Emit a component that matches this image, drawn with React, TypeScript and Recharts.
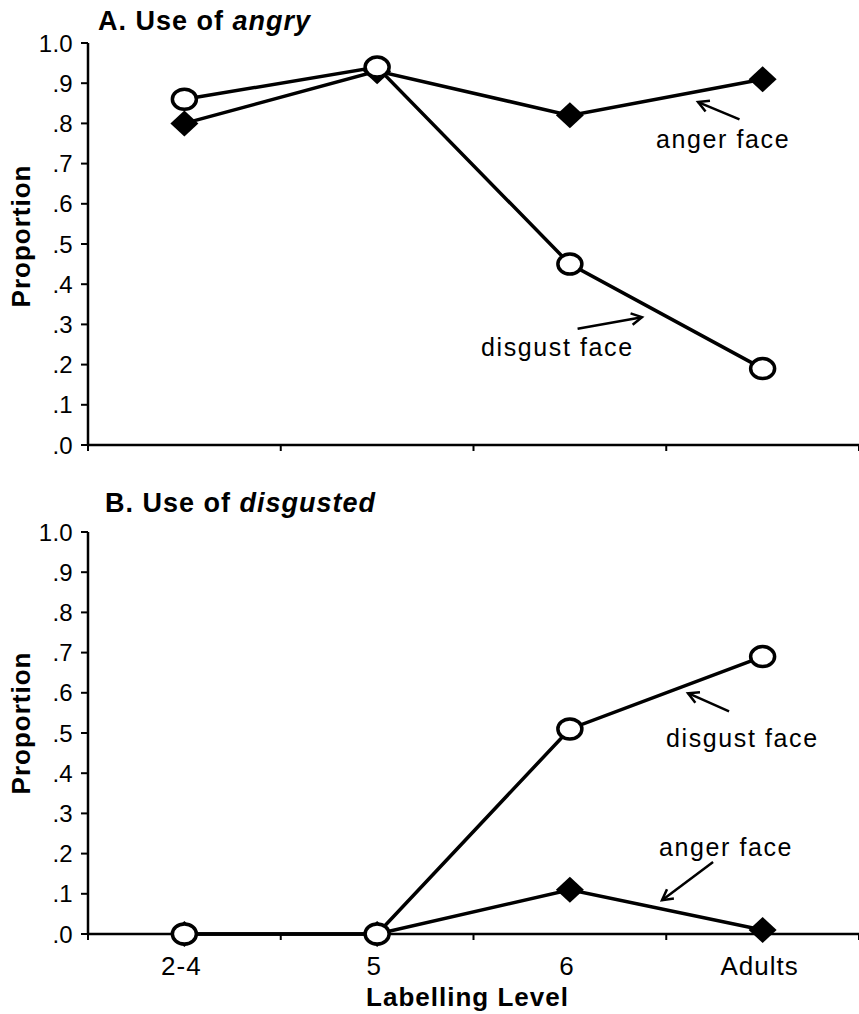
import React from "react";
import {
  LineChart,
  Line,
  XAxis,
  YAxis,
  ReferenceLine,
  ReferenceDot,
} from "recharts";

const FONT = '"Liberation Sans", Arial, Helvetica, sans-serif';

// labelling levels on the x axis
const categories = ["2-4", "5", "6", "Adults"];
const yTicks = [0, 0.1, 0.2, 0.3, 0.4, 0.5, 0.6, 0.7, 0.8, 0.9, 1.0];
const xTicks = [0, 0.5, 1, 1.5, 2, 2.5, 3, 3.5, 4];

// A. use of "angry"
const angryAngerFace = [0.8, 0.93, 0.82, 0.91];
const angryDisgustFace = [0.86, 0.94, 0.45, 0.19];

// B. use of "disgusted"
const disgustedAngerFace = [0.0, 0.0, 0.11, 0.01];
const disgustedDisgustFace = [0.0, 0.0, 0.51, 0.69];

// annotations, in data units
const angryNotes = [
  { text: "anger face", x: 3.29, y: 0.76 },
  { text: "disgust face", x: 2.43, y: 0.245 },
];
const angryArrows = [
  { from: [3.38, 0.81], to: [3.165, 0.853] },
  { from: [2.54, 0.289], to: [2.874, 0.318] },
];
const disgustedNotes = [
  { text: "disgust face", x: 3.39, y: 0.487 },
  { text: "anger face", x: 3.305, y: 0.216 },
];
const disgustedArrows = [
  { from: [3.326, 0.554], to: [3.113, 0.599] },
  { from: [3.243, 0.179], to: [2.978, 0.084] },
];

const buildRows = (anger: number[], disgust: number[]) =>
  categories.map((c, i) => ({ pos: i + 0.5, level: c, anger: anger[i], disgust: disgust[i] }));

const fmtY = (v: number) => (v >= 1 ? "1.0" : "." + Math.round(v * 10));

const YTick = (p: any) => (
  <text
    x={p.x}
    y={p.y}
    dy="0.36em"
    textAnchor="end"
    fontSize={24}
    letterSpacing={0.3}
    fontFamily={FONT}
    fill="#000"
  >
    {fmtY(p.payload.value)}
  </text>
);

const makeXTick = (showLabels: boolean) => (p: any) => {
  const v = p.payload.value;
  if (Number.isInteger(v)) {
    return <line x1={p.x} x2={p.x} y1={p.y} y2={p.y + 6} stroke="#000" strokeWidth={2} />;
  }
  if (!showLabels) return <g />;
  return (
    <text
      x={p.x - 3}
      y={p.y + 41}
      textAnchor="middle"
      fontSize={26}
      letterSpacing={1}
      fontFamily={FONT}
      fill="#000"
    >
      {categories[Math.floor(v)]}
    </text>
  );
};

const CircleDot = (p: any) =>
  p.cx == null ? <g /> : (
    <ellipse cx={p.cx} cy={p.cy} rx={12} ry={10} fill="#fff" stroke="#000" strokeWidth={3.5} />
  );

const DiamondDot = (p: any) =>
  p.cx == null ? <g /> : (
    <polygon
      points={`${p.cx},${p.cy - 13} ${p.cx + 14},${p.cy} ${p.cx},${p.cy + 13} ${p.cx - 14},${p.cy}`}
      fill="#000"
    />
  );

const ArrowShape = (p: any) => {
  const { x1, y1, x2, y2 } = p;
  const a = Math.atan2(y2 - y1, x2 - x1);
  const len = 12;
  const spread = 0.5;
  const h1x = x2 - len * Math.cos(a - spread);
  const h1y = y2 - len * Math.sin(a - spread);
  const h2x = x2 - len * Math.cos(a + spread);
  const h2y = y2 - len * Math.sin(a + spread);
  return (
    <g>
      <line x1={x1} y1={y1} x2={x2} y2={y2} stroke="#000" strokeWidth={2.5} />
      <polyline
        points={`${h1x},${h1y} ${x2},${y2} ${h2x},${h2y}`}
        fill="none"
        stroke="#000"
        strokeWidth={2.5}
      />
    </g>
  );
};

const noteShape = (text: string) => (p: any) => (
  <text
    x={p.cx + 1}
    y={p.cy}
    dy="0.36em"
    textAnchor="middle"
    fontSize={25}
    letterSpacing={1.6}
    fontFamily={FONT}
    fill="#000"
  >
    {text}
  </text>
);

interface PanelProps {
  top: number;
  height: number;
  xAxisHeight: number;
  anger: number[];
  disgust: number[];
  notes: { text: string; x: number; y: number }[];
  arrows: { from: number[]; to: number[] }[];
  showXLabels: boolean;
  yLabelShift: number;
}

function Panel({ top, height, xAxisHeight, anger, disgust, notes, arrows, showXLabels, yLabelShift }: PanelProps) {
  const rows = buildRows(anger, disgust);
  return (
    <div style={{ position: "absolute", left: 0, top }}>
      <LineChart width={859} height={height} data={rows} margin={{ top: 43, right: 0, left: 0, bottom: 0 }}>
        <XAxis
          dataKey="pos"
          type="number"
          domain={[0, 4]}
          ticks={xTicks}
          interval={0}
          height={xAxisHeight}
          tickSize={0}
          tickMargin={0}
          tickLine={false}
          tick={makeXTick(showXLabels)}
          axisLine={{ stroke: "#000", strokeWidth: 2.5 }}
          label={
            showXLabels
              ? {
                  content: (lp: any) => {
                    const vb = lp.viewBox;
                    return (
                      <text
                        x={vb.x + vb.width / 2 - 6}
                        y={vb.y + 72}
                        textAnchor="middle"
                        fontSize={26}
                        fontWeight="bold"
                        letterSpacing={1}
                        fontFamily={FONT}
                        fill="#000"
                      >
                        Labelling Level
                      </text>
                    );
                  },
                }
              : undefined
          }
        />
        <YAxis
          type="number"
          domain={[0, 1]}
          ticks={yTicks}
          interval={0}
          width={88}
          tickSize={7}
          tickMargin={8}
          tick={YTick}
          tickLine={{ stroke: "#000", strokeWidth: 2 }}
          axisLine={{ stroke: "#000", strokeWidth: 2.5 }}
          label={{
            content: (lp: any) => {
              const vb = lp.viewBox;
              const cy = vb.y + vb.height / 2 + yLabelShift;
              return (
                <text
                  transform={`translate(30, ${cy}) rotate(-90)`}
                  textAnchor="middle"
                  fontSize={26}
                  fontWeight="bold"
                  letterSpacing={1}
                  fontFamily={FONT}
                  fill="#000"
                >
                  Proportion
                </text>
              );
            },
          }}
        />
        <Line
          dataKey="anger"
          stroke="#000"
          strokeWidth={3.5}
          dot={<DiamondDot />}
          activeDot={false}
          isAnimationActive={false}
        />
        <Line
          dataKey="disgust"
          stroke="#000"
          strokeWidth={3.5}
          dot={<CircleDot />}
          activeDot={false}
          isAnimationActive={false}
        />
        {arrows.map((a, i) => (
          <ReferenceLine
            key={"a" + i}
            segment={[
              { x: a.from[0], y: a.from[1] },
              { x: a.to[0], y: a.to[1] },
            ]}
            ifOverflow="visible"
            shape={ArrowShape}
          />
        ))}
        {notes.map((n, i) => (
          <ReferenceDot key={"n" + i} x={n.x} y={n.y} r={0} ifOverflow="visible" shape={noteShape(n.text)} />
        ))}
      </LineChart>
    </div>
  );
}

const titleStyle: React.CSSProperties = {
  position: "absolute",
  fontFamily: FONT,
  fontSize: 27,
  fontWeight: "bold",
  letterSpacing: 1,
  lineHeight: "27px",
  whiteSpace: "nowrap",
  color: "#000",
};

export default function App() {
  return (
    <div style={{ position: "absolute", left: 0, top: 0, width: 859, height: 1014, background: "#fff", overflow: "hidden" }}>
      <Panel
        top={0}
        height={470}
        xAxisHeight={25}
        anger={angryAngerFace}
        disgust={angryDisgustFace}
        notes={angryNotes}
        arrows={angryArrows}
        showXLabels={false}
        yLabelShift={-8}
      />
      <Panel
        top={489}
        height={525}
        xAxisHeight={80}
        anger={disgustedAngerFace}
        disgust={disgustedDisgustFace}
        notes={disgustedNotes}
        arrows={disgustedArrows}
        showXLabels={true}
        yLabelShift={-10}
      />
      <div style={{ ...titleStyle, left: 98, top: 8 }}>
        A. Use of <i>angry</i>
      </div>
      <div style={{ ...titleStyle, left: 105, top: 490 }}>
        B. Use of <i>disgusted</i>
      </div>
    </div>
  );
}
